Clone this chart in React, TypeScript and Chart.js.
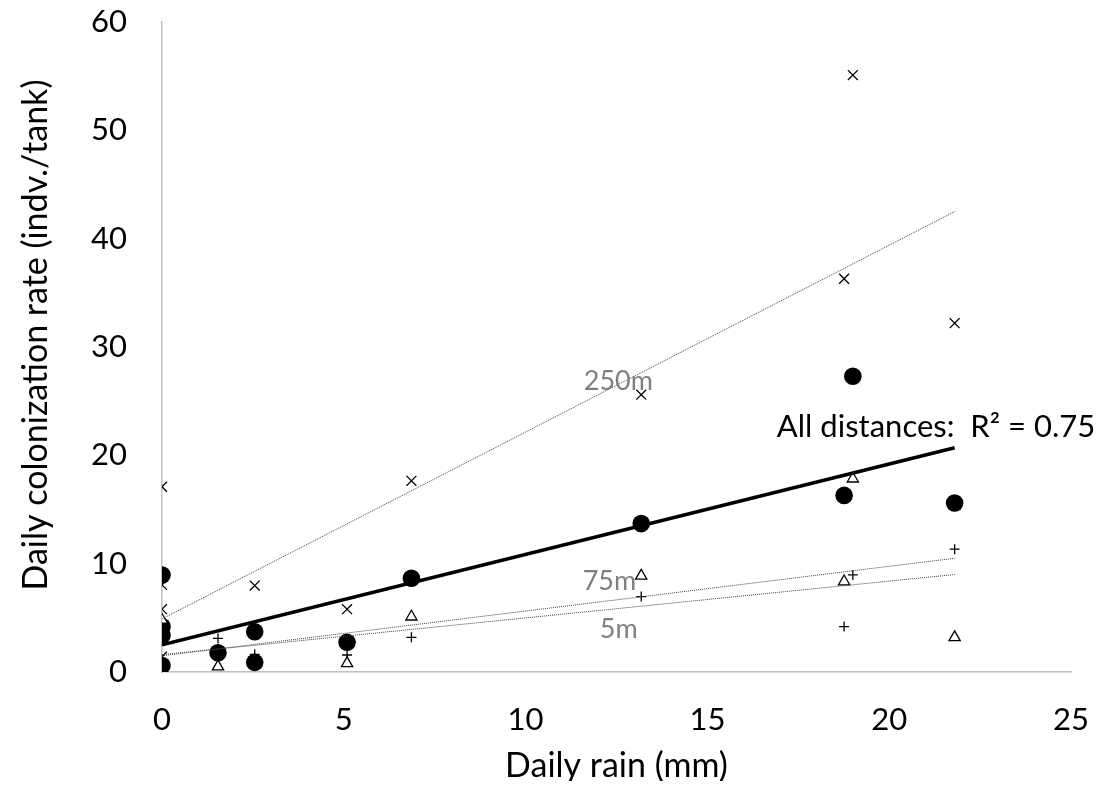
import React, { useEffect, useRef } from "react";
import { Chart, registerables } from "chart.js";

Chart.register(...registerables);

// Daily rain (mm) for each series point
const allX = [0, 0, 0, 0, 1.54, 2.55, 2.55, 5.09, 6.86, 13.18, 18.76, 19.0, 21.8];
const allY = [8.96, 4.2, 3.4, 0.6, 1.78, 3.72, 0.89, 2.74, 8.66, 13.7, 16.3, 27.3, 15.6];

const m250X = [0, 0, 0, 0, 2.55, 5.09, 6.86, 13.18, 18.76, 19.0, 21.8];
const m250Y = [17.1, 8.04, 5.8, 1.41, 7.98, 5.8, 17.65, 25.6, 36.3, 55.1, 32.2];

const m75X = [0, 1.54, 5.09, 6.86, 13.18, 18.76, 19.0, 21.8];
const m75Y = [4.8, 0.5, 0.8, 5.1, 8.87, 8.35, 17.84, 3.2];

const m5X = [0, 1.54, 2.55, 5.09, 6.86, 13.18, 18.76, 19.0, 21.8];
const m5Y = [0.05, 3.1, 1.63, 1.57, 3.2, 6.96, 4.19, 8.96, 11.34];

// Trend line endpoints
const trendX = [0, 21.8];
const trendAllY = [2.5, 20.7];
const trend250Y = [4.9, 42.5];
const trend75Y = [1.5, 10.5];
const trend5Y = [1.6, 9.0];

const xTicks = [0, 5, 10, 15, 20, 25];
const yTicks = [0, 10, 20, 30, 40, 50, 60];

const xTitle = "Daily rain (mm)";
const yTitle = "Daily colonization rate (indv./tank)";

const FONT = "Lato, 'Open Sans', sans-serif";

const pts = (xs: number[], ys: number[]) => xs.map((x, i) => ({ x, y: ys[i] }));

const textPlugin = {
  id: "textPlugin",
  afterDraw(chart: any) {
    const { ctx, scales, chartArea } = chart;
    const xs = scales.x;
    const ys = scales.y;
    const items = [
      { text: "250m", x: 11.6, y: 26.0, color: "#7f7f7f", size: 27 },
      { text: "75m", x: 11.57, y: 7.57, color: "#7f7f7f", size: 27 },
      { text: "5m", x: 12.04, y: 3.14, color: "#7f7f7f", size: 27 },
      { text: "All distances:  R² = 0.75", x: 16.91, y: 21.7, color: "#000000", size: 31 },
    ];
    ctx.save();
    ctx.textAlign = "left";
    ctx.textBaseline = "alphabetic";
    for (const it of items) {
      ctx.font = `${it.size}px ${FONT}`;
      ctx.fillStyle = it.color;
      ctx.fillText(it.text, xs.getPixelForValue(it.x), ys.getPixelForValue(it.y));
    }
    // axis titles
    ctx.fillStyle = "#000";
    ctx.font = `34px ${FONT}`;
    ctx.textAlign = "center";
    ctx.fillText(xTitle, (chartArea.left + chartArea.right) / 2, 769);
    ctx.translate(39, 327);
    ctx.rotate(-Math.PI / 2);
    ctx.fillText(yTitle, 0, 0);
    ctx.restore();
  },
};

export default function App() {
  const ref = useRef<HTMLCanvasElement | null>(null);

  useEffect(() => {
    if (!ref.current) return;
    const trendDs = (ys: number[], width: number, dash: number[], color: string) => ({
      type: "line" as const,
      data: pts(trendX, ys),
      showLine: true,
      borderColor: color,
      borderWidth: width,
      borderDash: dash,
      pointRadius: 0,
      fill: false,
    });
    const chart = new Chart(ref.current, {
      type: "scatter",
      data: {
        datasets: [
          trendDs(trend250Y, 1, [1, 1], "#404040") as any,
          trendDs(trend75Y, 1, [1, 1], "#404040") as any,
          trendDs(trend5Y, 1, [1, 1], "#404040") as any,
          trendDs(trendAllY, 3.5, [], "#000000") as any,
          {
            label: "250m",
            data: pts(m250X, m250Y),
            pointStyle: "crossRot",
            pointRadius: 7,
            borderColor: "#000",
            borderWidth: 1.3,
          },
          {
            label: "75m",
            data: pts(m75X, m75Y),
            pointStyle: "triangle",
            pointRadius: 6.5,
            backgroundColor: "#fff",
            borderColor: "#000",
            borderWidth: 1.3,
          },
          {
            label: "5m",
            data: pts(m5X, m5Y),
            pointStyle: "cross",
            pointRadius: 5,
            borderColor: "#000",
            borderWidth: 1.3,
          },
          {
            label: "All distances",
            data: pts(allX, allY),
            pointStyle: "circle",
            pointRadius: 8.8,
            backgroundColor: "#000",
            borderColor: "#000",
            borderWidth: 0,
          },
        ],
      },
      options: {
        animation: false,
        responsive: true,
        maintainAspectRatio: false,
        layout: { padding: { top: 14, right: 35, left: 0, bottom: 0 } },
        plugins: { legend: { display: false }, tooltip: { enabled: false } },
        scales: {
          x: {
            type: "linear",
            min: 0,
            max: 25,
            afterFit: (s: any) => {
              s.height = 109;
              s.paddingLeft = 0;
              s.paddingRight = 0;
            },
            afterBuildTicks: (s: any) => { s.ticks = xTicks.map((v) => ({ value: v })); },
            grid: { display: true, drawOnChartArea: false, drawTicks: false },
            border: { display: true, color: "#bfbfbf", width: 1.5 },
            ticks: { padding: 29, color: "#000", font: { family: FONT, size: 31 } },
          },
          y: {
            type: "linear",
            min: 0,
            max: 60,
            afterFit: (s: any) => {
              s.width = 154;
              s.paddingTop = 0;
              s.paddingBottom = 0;
            },
            afterBuildTicks: (s: any) => { s.ticks = yTicks.map((v) => ({ value: v })); },
            grid: { display: true, drawOnChartArea: false, drawTicks: false },
            border: { display: true, color: "#bfbfbf", width: 1.5 },
            ticks: { padding: 35, color: "#000", font: { family: FONT, size: 31 } },
          },
        },
      },
      plugins: [textPlugin],
    });
    return () => chart.destroy();
  }, []);

  return (
    <div style={{ position: "relative", width: 1098, height: 773 }}>
      <canvas ref={ref} />
    </div>
  );
}
